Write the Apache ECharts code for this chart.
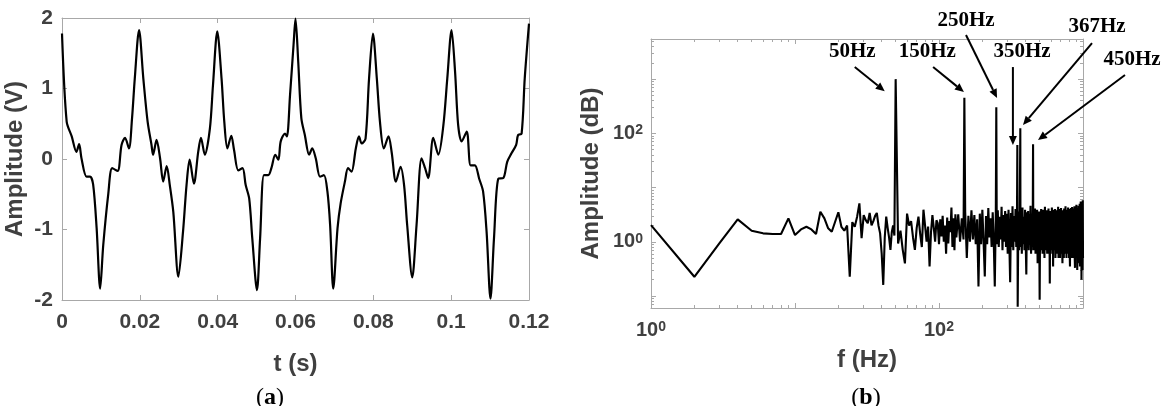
<!DOCTYPE html>
<html>
<head>
<meta charset="utf-8">
<script src="https://cdn.jsdelivr.net/npm/echarts@6/dist/echarts.min.js"></script>
<style>
html, body { margin: 0; padding: 0; background: #fff; }
#main { width: 1164px; height: 406px; }
</style>
</head>
<body>
<div id="main"></div>
<script>
// (a) waveform
var timeS = [0, 0.0012, 0.0025, 0.0037, 0.0044, 0.005, 0.0063, 0.0072, 0.008, 0.0089, 0.0098, 0.0106, 0.0119, 0.0129, 0.0143, 0.0153, 0.0162, 0.0172, 0.018, 0.0187, 0.0198, 0.0209, 0.022, 0.023, 0.0234, 0.0243, 0.0252, 0.026, 0.0269, 0.0277, 0.0286, 0.0299, 0.0311, 0.032, 0.0328, 0.0339, 0.035, 0.0357, 0.0367, 0.038, 0.0388, 0.0399,
    0.041, 0.0417, 0.0425, 0.0435, 0.0442, 0.0453, 0.0464, 0.0472, 0.0481, 0.0489, 0.0501, 0.0509, 0.0519, 0.053, 0.0538, 0.0548, 0.0556, 0.0562, 0.0573, 0.0578, 0.0586, 0.0595, 0.060, 0.0607, 0.0615, 0.0624, 0.0635, 0.0643, 0.0652, 0.0663, 0.0673, 0.0682, 0.0689, 0.0697, 0.0708, 0.0716, 0.0727, 0.0735, 0.0744, 0.0755, 0.0763, 0.077, 0.078, 0.0789, 0.0799,
    0.0809, 0.0817, 0.0827, 0.0839, 0.0847, 0.0858, 0.087, 0.0879, 0.0887, 0.09, 0.0911, 0.0924, 0.0933, 0.0941, 0.0954, 0.0967, 0.098, 0.099, 0.1001, 0.101, 0.1018, 0.1027, 0.104, 0.105, 0.1061, 0.1072, 0.1082, 0.1091, 0.1101, 0.111, 0.1121, 0.1134, 0.1144, 0.1155, 0.1167, 0.1172, 0.1181, 0.1189, 0.12];
var voltV = [1.78, 0.53, 0.32, 0.10, 0.21, 0.01, -0.25, -0.25, -0.36, -0.98, -1.84, -1.22, -0.49, -0.13, -0.17, 0.20, 0.30, 0.15, 0.58, 1.14, 1.83, 1.14, 0.53, 0.20, 0.06, 0.27, 0.01, -0.32, -0.10, -0.37, -0.75, -1.67, -1.03, -0.37, -0.01, -0.35, 0.10, 0.30, 0.06, 0.43, 1.05, 1.81,
    1.14, 0.53, 0.15, 0.33, 0.13, -0.16, -0.13, -0.37, -0.56, -1.13, -1.86, -1.13, -0.23, -0.23, -0.13, 0.06, -0.01, 0.25, 0.36, 0.32, 0.91, 1.62, 1.99, 1.38, 0.58, 0.34, 0.06, 0.15, 0.01, -0.25, -0.23, -0.46, -0.94, -1.84, -0.98, -0.63, -0.32, -0.13, -0.18, 0.15, 0.32, 0.22, 0.29, 1.14, 1.78,
    1.14, 0.53, 0.15, 0.32, 0.10, -0.32, -0.11, -0.37, -0.94, -1.68, -0.94, 0.01, -0.13, -0.27, 0.30, 0.06, 0.48, 1.14, 1.83, 1.24, 0.48, 0.25, 0.39, -0.09, -0.09, -0.28, -0.46, -1.03, -1.98, -1.13, -0.28, -0.27, -0.04, 0.08, 0.20, 0.34, 0.36, 1.14, 1.92];
var timeTicks = [0, 0.02, 0.04, 0.06, 0.08, 0.1, 0.12];

// (b) spectrum amplitudes
// 1..49 Hz, every 1 Hz
var lowAmp = [2.03, 0.226, 0.95, 2.59, 1.6, 1.43, 1.39, 1.39, 2.7, 1.33, 1.69, 1.89, 1.69, 1.39, 3.57, 2.7, 1.77, 1.53, 2.34, 3.5,
    1.89, 1.6, 2.0, 0.226, 2.3, 1.9, 2.9, 5.1, 1.16, 3.1, 2.5, 2.2, 3.4, 2.0, 2.4, 3.0, 3.4, 2.0, 1.43, 0.6,
    0.16, 1.2, 2.9, 1.8, 1.2, 0.71, 1.5, 2.0, 1.3];
// 52..130 Hz, every 2 Hz
var midAmp = [0.93, 1.6, 0.71, 0.4, 3.3, 2.0, 2.4, 1.2, 0.71, 1.8, 2.9, 1.4, 0.8, 3.9, 2.0, 1.0, 1.9, 0.35, 1.5, 3.1,
    1.8, 1.0, 2.5, 2.2, 0.9, 2.6, 1.26, 3.0, 1.0, 2.0, 0.6, 2.8, 0.93, 2.4, 1.5, 4.3, 0.8, 2.7, 0.7, 3.2];
// 132..1000 Hz, every 4 Hz
var highAmp = [1.2, 3.2, 1.0, 2.7, 1.1, 3.6, 0.5, 3.0, 1.0, 3.8,
    1.1, 3.1, 0.9, 2.6, 0.15, 3.3, 0.9, 3.9, 1.0, 0.23,
    3.0, 0.9, 4.2, 1.2, 2.7, 0.8, 3.5, 1.0, 0.15, 3.2,
    0.9, 3.8, 0.8, 2.9, 1.1, 4.4, 0.7, 3.1, 1.0, 3.7,
    0.8, 3.3, 0.6, 3.9, 0.9, 0.18, 3.4, 0.8, 4.5, 0.7,
    3.0, 1.0, 4.0, 0.8, 3.3, 0.063, 3.6, 0.7, 3.8, 0.8,
    3.1, 0.6, 4.3, 0.9, 2.9, 0.7, 3.9, 1.0, 0.25, 3.5,
    0.8, 3.7, 0.7, 3.2, 0.9, 4.6, 0.6, 3.3, 0.8, 3.8,
    0.7, 3.0, 1.0, 4.1, 0.6, 3.5, 0.8, 3.9, 0.4, 3.2,
    0.8, 3.6, 0.085, 3.4, 0.7, 4.0, 0.8, 3.0, 0.6, 3.9,
    0.9, 3.3, 0.5, 4.4, 0.7, 3.5, 0.8, 3.8, 0.6, 3.1,
    0.8, 4.1, 0.6, 3.4, 0.17, 3.7, 0.7, 3.2, 0.8, 4.3,
    0.6, 3.4, 0.35, 3.9, 0.8, 3.5, 0.7, 4.0, 0.5, 3.3,
    0.8, 3.8, 0.6, 3.1, 0.8, 4.4, 0.5, 3.4, 0.7, 4.0,
    0.5, 3.5, 0.8, 4.2, 0.6, 3.2, 0.8, 0.4, 3.8, 0.7,
    3.5, 0.5, 4.1, 0.7, 3.3, 0.6, 4.5, 0.7, 3.6, 0.5,
    3.9, 0.7, 3.2, 0.6, 4.3, 0.7, 3.5, 0.5, 4.0, 0.7,
    0.35, 3.7, 0.6, 4.2, 0.7, 3.4, 0.5, 4.4, 0.7, 3.6,
    0.6, 4.1, 0.5, 3.3, 0.6, 4.5, 0.5, 0.33, 3.9, 0.6,
    3.5, 0.5, 4.8, 0.6, 3.7, 0.3, 4.2, 0.6, 3.4, 0.5,
    4.6, 0.5, 4.0, 0.4, 5.0, 0.35, 3.8, 0.5, 5.5, 0.4,
    4.3, 0.2, 5.3, 0.35, 4.0, 0.3, 5.8, 0.5];
// harmonic lines
var peakFreq = [50, 150, 250, 350, 367, 450];
var peakAmp = [1000, 454, 302, 61, 124, 63];
var peakNames = ['50Hz', '150Hz', '250Hz', '350Hz', '367Hz', '450Hz'];
// annotation anchors in (Hz, amplitude)
var labelPos = [[25, 3160], [83, 3160], [154, 11800], [377, 3160], [1250, 9140], [2190, 2250]];
var tailPos = [[26, 1670], [91, 1670], [154, 6520], [326, 1670], [1155, 4630], [1957, 1190]];
var headPos = [[42, 600], [149, 578], [253, 448], [326, 61], [383, 142], [487, 75]];

var wave = timeS.map(function (t, i) { return [t, voltV[i]]; });

var spec = [];
lowAmp.forEach(function (a, i) { spec.push([1 + i, a]); });
midAmp.forEach(function (a, i) { spec.push([52 + 2 * i, a]); });
highAmp.forEach(function (a, i) { spec.push([132 + 4 * i, a]); });
peakFreq.forEach(function (f, i) { spec.push([f, peakAmp[i]]); });
spec.sort(function (p, q) { return p[0] - q[0]; });

var sans = '"Liberation Sans", Arial, sans-serif';
var serif = '"Liberation Serif", "Times New Roman", serif';
var lineGray = '#a8a8a8';
var textGray = '#404040';

function boxAxis(extra) {
    var base = {
        axisLine: { show: true, onZero: false, lineStyle: { color: lineGray, width: 1 } },
        axisTick: { show: true, inside: true, length: 5, lineStyle: { color: lineGray } },
        splitLine: { show: false },
        axisLabel: { show: false }
    };
    return Object.assign(base, extra);
}

var powLabel = {
    fontFamily: sans,
    formatter: function (v) {
        var p = Math.round(Math.log10(v));
        if (Math.abs(Math.log10(v) - p) > 1e-6) return '';
        if (p !== 0 && p !== 2) return '';
        return '{b|10}{s|' + p + '}';
    },
    rich: {
        b: { fontSize: 20, fontWeight: 'bold', color: textGray, fontFamily: sans },
        s: { fontSize: 14, fontWeight: 'bold', color: textGray, fontFamily: sans, verticalAlign: 'top' }
    }
};

var logMinor = { show: true, length: 3, splitNumber: 9, lineStyle: { color: lineGray } };

var option = {
    animation: false,
    backgroundColor: '#fff',
    grid: [
        { left: 62, top: 18, width: 467, height: 282 },
        { left: 651, top: 39, width: 432, height: 269 }
    ],
    xAxis: [
        boxAxis({
            type: 'value', gridIndex: 0, min: 0, max: 0.12, interval: 0.02,
            name: 't (s)', nameLocation: 'middle', nameGap: 52,
            nameTextStyle: { fontFamily: sans, fontWeight: 'bold', fontSize: 24, color: textGray },
            axisLabel: {
                show: true, margin: 12, fontFamily: sans, fontWeight: 'bold', fontSize: 21, color: textGray,
                formatter: function (v) {
                    var hit = timeTicks.filter(function (t) { return Math.abs(t - v) < 1e-9; });
                    return hit.length ? String(hit[0]) : '';
                }
            }
        }),
        boxAxis({ type: 'value', gridIndex: 0, position: 'top', min: 0, max: 0.12, interval: 0.02 }),
        boxAxis({
            type: 'log', logBase: 10, gridIndex: 1, min: 1, max: 1000,
            name: 'f (Hz)', nameLocation: 'middle', nameGap: 40,
            nameTextStyle: { fontFamily: sans, fontWeight: 'bold', fontSize: 24, color: textGray },
            axisLabel: Object.assign({ show: true, margin: 12 }, powLabel),
            minorTick: logMinor
        }),
        boxAxis({ type: 'log', logBase: 10, gridIndex: 1, position: 'top', min: 1, max: 1000, minorTick: logMinor })
    ],
    yAxis: [
        boxAxis({
            type: 'value', gridIndex: 0, min: -2, max: 2, interval: 1,
            name: 'Amplitude (V)', nameLocation: 'middle', nameGap: 35, nameRotate: 90,
            nameTextStyle: { fontFamily: sans, fontWeight: 'bold', fontSize: 24, color: textGray },
            axisLabel: { show: true, margin: 9, fontFamily: sans, fontWeight: 'bold', fontSize: 21, color: textGray }
        }),
        boxAxis({ type: 'value', gridIndex: 0, position: 'right', min: -2, max: 2, interval: 1 }),
        boxAxis({
            type: 'log', logBase: 10, gridIndex: 1, min: 0.06, max: 5500,
            name: 'Amplitude (dB)', nameLocation: 'middle', nameGap: 48, nameRotate: 90,
            nameTextStyle: { fontFamily: sans, fontWeight: 'bold', fontSize: 24, color: textGray },
            axisLabel: Object.assign({ show: true, margin: 8, showMinLabel: false, showMaxLabel: false }, powLabel),
            minorTick: logMinor
        }),
        boxAxis({ type: 'log', logBase: 10, gridIndex: 1, position: 'right', min: 0.06, max: 5500, minorTick: logMinor })
    ],
    series: [
        {
            type: 'line', xAxisIndex: 0, yAxisIndex: 0, data: wave, smooth: 0.3,
            showSymbol: false, lineStyle: { color: '#000', width: 2.2 }, z: 3
        },
        {
            type: 'line', xAxisIndex: 2, yAxisIndex: 2, data: spec,
            showSymbol: false, lineStyle: { color: '#000', width: 2.1 }, z: 3
        },
        {
            type: 'custom', xAxisIndex: 2, yAxisIndex: 2, clip: false, silent: true, z: 4,
            data: labelPos,
            encode: { x: 0, y: 1 },
            renderItem: function (params, api) {
                var i = params.dataIndex;
                var lp = api.coord(labelPos[i]);
                var tp = api.coord(tailPos[i]);
                var hp = api.coord(headPos[i]);
                var dx = hp[0] - tp[0], dy = hp[1] - tp[1];
                var len = Math.sqrt(dx * dx + dy * dy);
                var ux = dx / len, uy = dy / len;
                var hl = 9, hw = 4;
                var bx = hp[0] - ux * hl, by = hp[1] - uy * hl;
                return {
                    type: 'group',
                    children: [
                        { type: 'line', shape: { x1: tp[0], y1: tp[1], x2: bx, y2: by }, style: { stroke: '#000', lineWidth: 2 } },
                        { type: 'polygon', shape: { points: [hp, [bx - uy * hw, by + ux * hw], [bx + uy * hw, by - ux * hw]] }, style: { fill: '#000' } },
                        { type: 'text', x: lp[0], y: lp[1], style: { text: peakNames[i], font: 'bold 21px ' + serif, fill: '#000', align: 'center', verticalAlign: 'middle' } }
                    ]
                };
            }
        }
    ],
    graphic: [
        {
            type: 'text', x: 270, y: 398,
            style: {
                text: '{p|(}{l|a}{p|)}', align: 'center', verticalAlign: 'middle',
                rich: { p: { font: '24px ' + serif, fill: '#000' }, l: { font: 'bold 24px ' + serif, fill: '#000' } }
            }
        },
        {
            type: 'text', x: 866, y: 398,
            style: {
                text: '{p|(}{l|b}{p|)}', align: 'center', verticalAlign: 'middle',
                rich: { p: { font: '24px ' + serif, fill: '#000' }, l: { font: 'bold 24px ' + serif, fill: '#000' } }
            }
        }
    ]
};

var chart = echarts.init(document.getElementById('main'));
chart.setOption(option);
</script>
</body>
</html>
